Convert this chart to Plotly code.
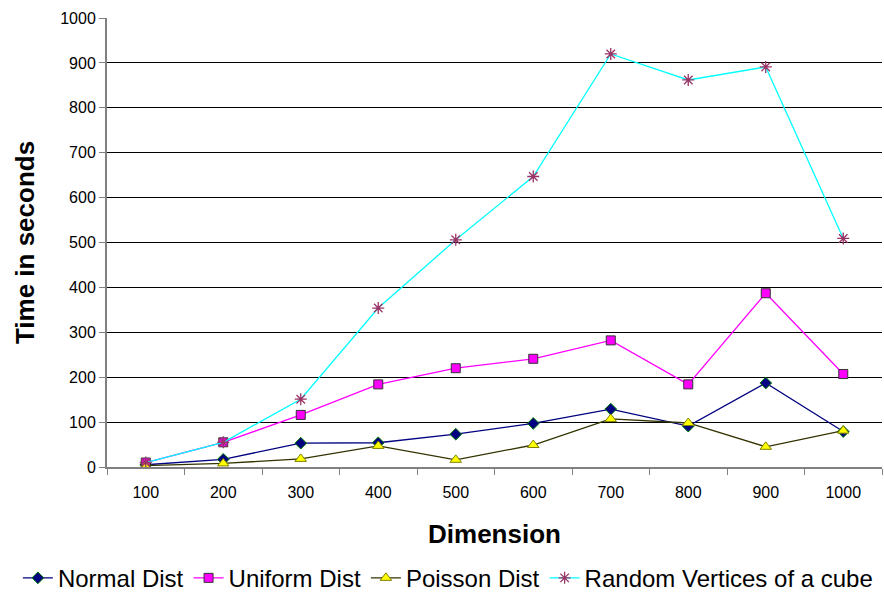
import plotly.graph_objects as go

dims = ["100", "200", "300", "400", "500", "600", "700", "800", "900", "1000"]
normal = [5, 17, 53, 54, 73, 97, 129, 91, 187, 79]
uniform = [10, 55, 116, 184, 220, 241, 282, 184, 387, 207]
poisson = [3, 8, 18, 47, 16, 49, 107, 98, 45, 81]
random_cube = [10, 55, 151, 354, 506, 647, 920, 862, 891, 509]

fig = go.Figure()
fig.add_trace(go.Scatter(x=dims, y=normal, name="Normal Dist", mode="lines+markers",
                         line=dict(color="#000080", width=1.3),
                         marker=dict(symbol="diamond", size=9, color="#000080",
                                     line=dict(color="#008000", width=1))))
fig.add_trace(go.Scatter(x=dims, y=uniform, name="Uniform Dist", mode="lines+markers",
                         line=dict(color="#FF00FF", width=1.3),
                         marker=dict(symbol="square", size=9, color="#FF00FF",
                                     line=dict(color="#333333", width=1))))
fig.add_trace(go.Scatter(x=dims, y=poisson, name="Poisson Dist", mode="lines+markers",
                         line=dict(color="#333300", width=1.3),
                         marker=dict(symbol="triangle-up", size=10, color="#FFFF00",
                                     line=dict(color="#808000", width=1))))
fig.add_trace(go.Scatter(x=dims, y=random_cube, name="Random Vertices of a cube", mode="lines+markers",
                         line=dict(color="#00FFFF", width=1.3),
                         marker=dict(symbol="asterisk-open", size=10, color="#993366",
                                     line=dict(color="#993366", width=1.3))))

fig.update_layout(
    width=884, height=602,
    margin=dict(l=107, r=2, t=18, b=134),
    paper_bgcolor="white", plot_bgcolor="white",
    font=dict(family="Liberation Sans, Arial, sans-serif", color="black"),
    showlegend=True,
    legend=dict(orientation="h", x=-0.115, xanchor="left", y=-0.245, yanchor="middle",
                font=dict(size=24), tracegroupgap=0, borderwidth=0),
    xaxis=dict(type="category", range=[-0.5, 9.5], showgrid=False, showline=True,
               linecolor="#808080", linewidth=2,
               ticks="outside", tickson="boundaries", ticklen=6, tickcolor="#808080",
               tickfont=dict(size=16), ticklabelstandoff=10, automargin=False,
               title=dict(text="<b>Dimension</b>", font=dict(size=26), standoff=25)),
    yaxis=dict(range=[0, 1000], dtick=100, showgrid=True, gridcolor="black", gridwidth=1,
               showline=True, linecolor="#808080", linewidth=2,
               ticks="outside", ticklen=6, tickcolor="#808080", tickfont=dict(size=16),
               zeroline=False, automargin=False,
               title=dict(text="<b>Time in seconds</b>", font=dict(size=26), standoff=18)),
)

fig.write_html("out.html")
